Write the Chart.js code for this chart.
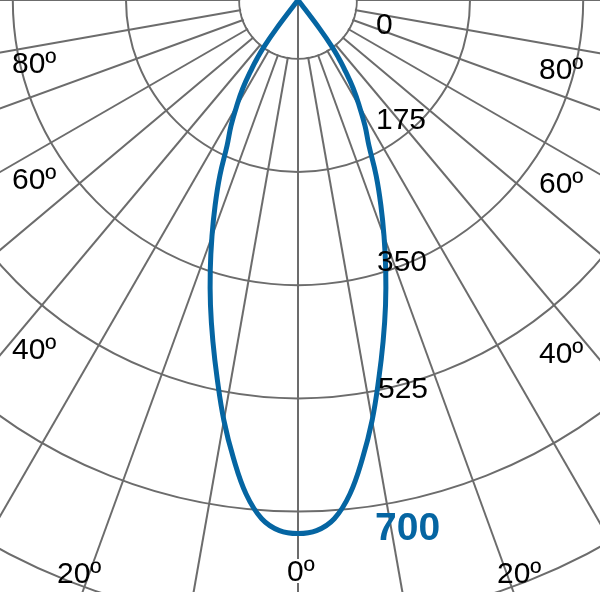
<!DOCTYPE html>
<html>
<head>
<meta charset="utf-8">
<title>Diagramma polare</title>
<script src="https://cdn.jsdelivr.net/npm/chart.js@4.4.1/dist/chart.umd.min.js"></script>
<style>
  html, body { margin: 0; padding: 0; background: #fff; overflow: hidden; }
  #frame { position: relative; width: 600px; height: 592px; overflow: hidden; background: #fff; }
  /* il centro del diagramma cade sul bordo superiore, a x = 298 */
  #plot { position: absolute; left: -440px; top: -738px; width: 1476px; height: 1476px; }
  .lbl { position: absolute; font-family: "Liberation Sans", Arial, sans-serif; font-size: 30px; line-height: 30px; color: #000; white-space: nowrap; }
  .lbl.big { font-weight: bold; font-size: 39px; line-height: 39px; color: #0565a2; }
  .lbl.mask { background: #fff; line-height: 24px; }
</style>
</head>
<body>
<div id="frame">
  <div id="plot"><canvas id="chart-polare" width="1476" height="1476"></canvas></div>
</div>
<script>
// Curva fotometrica (simmetrica): angolo in gradi da 0 (verso il basso), intensità
const curveAngles = [0, 2, 4, 6, 8, 10, 12, 14, 16, 18, 20, 22, 24, 26, 28, 30, 32, 34, 35, 36, 37, 38];
const curveValues = [734, 730, 713, 677, 625, 569, 509, 453, 400, 348, 298, 251, 206, 159, 130, 99, 70, 36, 19, 0, -35, -90.9];

// Scala radiale: il cerchio "0" non è al centro
const radialMin = -90.9;
const radialMax = 1050;
const radialStep = 175;
const radialTickLabels = ['0', '175', '350', '525'];
const radialMaxLabel = '700';

// Etichette angolari (sinistra -> destra)
const angleLabels = ['80º', '60º', '40º', '20º', '0º', '20º', '40º', '60º', '80º'];

const GRID = '#6c6c6c';
const BLUE = '#0565a2';

document.addEventListener('DOMContentLoaded', function() {

    // un'etichetta di categoria per ogni grado, raggi visibili ogni 10°
    const degrees = [];
    for (let i = 0; i < 360; i++) degrees.push(i);

    const curve = new Array(360).fill(null);
    curveAngles.forEach((a, i) => {
        curve[a] = curveValues[i];
        curve[(360 - a) % 360] = curveValues[i];
    });

    // copre i raggi dentro il cerchio "0", lasciando solo quello a 0°
    const foroCentrale = {
        id: 'foroCentrale',
        beforeDatasetsDraw(chart) {
            const s = chart.scales.r;
            const ctx = chart.ctx;
            const r0 = s.getDistanceFromCenterForValue(0);
            ctx.save();
            ctx.fillStyle = '#fff';
            ctx.beginPath();
            ctx.arc(s.xCenter, s.yCenter, r0 - 1, 0, Math.PI * 2);
            ctx.fill();
            const p = s.getPointPositionForValue(0, 0);
            ctx.strokeStyle = GRID;
            ctx.lineWidth = 2;
            ctx.beginPath();
            ctx.moveTo(s.xCenter, s.yCenter);
            ctx.lineTo(p.x, p.y);
            ctx.stroke();
            ctx.restore();
        }
    };

    new Chart(document.getElementById('chart-polare'), {
        type: 'radar',
        data: {
            labels: degrees,
            datasets: [{
                data: curve,
                borderColor: BLUE,
                borderWidth: 5,
                borderJoinStyle: 'round',
                fill: false,
                spanGaps: true,
                tension: 0.4,
                pointRadius: 0,
                pointHitRadius: 0
            }]
        },
        options: {
            responsive: false,
            animation: false,
            events: [],
            layout: { padding: 0 },
            plugins: { legend: { display: false }, tooltip: { enabled: false } },
            scales: {
                r: {
                    min: radialMin,
                    max: radialMax,
                    startAngle: 180,
                    beginAtZero: false,
                    ticks: { display: false, stepSize: radialStep },
                    pointLabels: { display: false },
                    grid: { circular: true, color: GRID, lineWidth: 2 },
                    angleLines: {
                        color: GRID,
                        lineWidth: (ctx) => (ctx.index % 10 === 0 ? 2 : 0)
                    }
                }
            }
        },
        plugins: [foroCentrale]
    });

    // testi sopra il grafico
    const frame = document.getElementById('frame');
    function addLabel(text, left, top, cls) {
        const d = document.createElement('div');
        d.className = 'lbl' + (cls ? ' ' + cls : '');
        d.textContent = text;
        d.style.left = left + 'px';
        d.style.top = top + 'px';
        frame.appendChild(d);
    }

    const tickPos = [[376, 9], [376, 104], [377, 246], [378, 373]];
    radialTickLabels.forEach((t, i) => addLabel(t, tickPos[i][0], tickPos[i][1]));
    addLabel(radialMaxLabel, 375, 507, 'big');

    const anglePos = [[12, 48], [12, 164], [12, 334], [57, 558], [287, 559], [497, 558], [539, 338], [539, 168], [539, 54]];
    angleLabels.forEach((t, i) => addLabel(t, anglePos[i][0], anglePos[i][1], i === 4 ? 'mask' : ''));
});
</script>
</body>
</html>
